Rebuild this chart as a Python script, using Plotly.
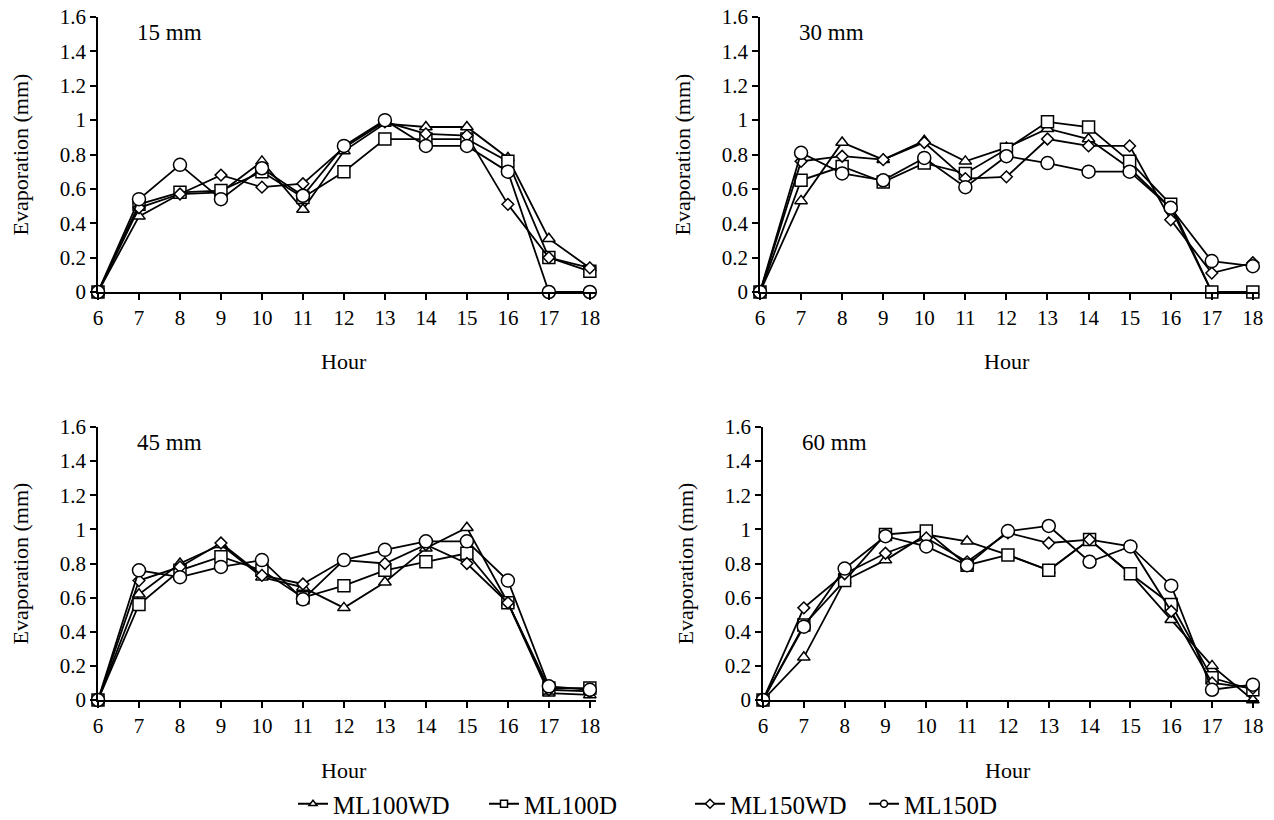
import plotly.graph_objects as go

hours = [6, 7, 8, 9, 10, 11, 12, 13, 14, 15, 16, 17, 18]
series_names = ["ML100WD", "ML100D", "ML150WD", "ML150D"]
panel_labels = ["15 mm", "30 mm", "45 mm", "60 mm"]

# 15 mm
p15_ml100wd = [0, 0.44, 0.57, 0.58, 0.76, 0.48, 0.82, 0.98, 0.96, 0.96, 0.78, 0.31, 0.14]
p15_ml100d = [0, 0.51, 0.58, 0.59, 0.70, 0.55, 0.70, 0.89, 0.89, 0.89, 0.76, 0.20, 0.12]
p15_ml150wd = [0, 0.49, 0.57, 0.68, 0.61, 0.63, 0.84, 0.99, 0.92, 0.91, 0.51, 0.20, 0.14]
p15_ml150d = [0, 0.54, 0.74, 0.54, 0.72, 0.56, 0.85, 1.00, 0.85, 0.85, 0.70, 0.00, 0.00]
# 30 mm
p30_ml100wd = [0, 0.53, 0.87, 0.77, 0.88, 0.76, 0.84, 0.95, 0.89, 0.72, 0.49, 0.00, 0.00]
p30_ml100d = [0, 0.65, 0.73, 0.64, 0.75, 0.69, 0.83, 0.99, 0.96, 0.76, 0.51, 0.00, 0.00]
p30_ml150wd = [0, 0.76, 0.79, 0.77, 0.87, 0.66, 0.67, 0.89, 0.85, 0.85, 0.42, 0.11, 0.17]
p30_ml150d = [0, 0.81, 0.69, 0.65, 0.78, 0.61, 0.79, 0.75, 0.70, 0.70, 0.49, 0.18, 0.15]
# 45 mm
p45_ml100wd = [0, 0.62, 0.80, 0.91, 0.72, 0.66, 0.54, 0.69, 0.89, 1.01, 0.57, 0.04, 0.03]
p45_ml100d = [0, 0.56, 0.76, 0.84, 0.76, 0.60, 0.67, 0.76, 0.81, 0.86, 0.57, 0.07, 0.07]
p45_ml150wd = [0, 0.70, 0.78, 0.92, 0.73, 0.68, 0.82, 0.80, 0.91, 0.80, 0.57, 0.06, 0.05]
p45_ml150d = [0, 0.76, 0.72, 0.78, 0.82, 0.59, 0.82, 0.88, 0.93, 0.93, 0.70, 0.08, 0.06]
# 60 mm
p60_ml100wd = [0, 0.25, 0.70, 0.82, 0.97, 0.93, 0.85, 0.76, 0.94, 0.74, 0.47, 0.20, 0.00]
p60_ml100d = [0, 0.44, 0.70, 0.97, 0.99, 0.79, 0.85, 0.76, 0.94, 0.74, 0.56, 0.13, 0.06]
p60_ml150wd = [0, 0.54, 0.74, 0.86, 0.95, 0.81, 0.98, 0.92, 0.94, 0.90, 0.52, 0.10, 0.07]
p60_ml150d = [0, 0.43, 0.77, 0.96, 0.90, 0.79, 0.99, 1.02, 0.81, 0.90, 0.67, 0.06, 0.09]

y_ticks = [0, 0.2, 0.4, 0.6, 0.8, 1.0, 1.2, 1.4, 1.6]
y_ticktext = ["0", "0.2", "0.4", "0.6", "0.8", "1", "1.2", "1.4", "1.6"]

panels = [
    [p15_ml100wd, p15_ml100d, p15_ml150wd, p15_ml150d],
    [p30_ml100wd, p30_ml100d, p30_ml150wd, p30_ml150d],
    [p45_ml100wd, p45_ml100d, p45_ml150wd, p45_ml150d],
    [p60_ml100wd, p60_ml100d, p60_ml150wd, p60_ml150d],
]

symbols = ["triangle-up", "square", "diamond", "circle"]
msizes = [11, 12, 9, 13]

W, H = 1274, 820
FONT = "Liberation Serif"

# pixel boxes (left, right, top, bottom) for each panel
boxes = [
    (98, 596, 17, 292),
    (760, 1259, 17, 292),
    (98, 596, 427, 700),
    (763, 1259, 427, 700),
]

fig = go.Figure()
layout_axes = {}
annotations = []

for i, (vals, box) in enumerate(zip(panels, boxes)):
    xa = "x" if i == 0 else f"x{i+1}"
    ya = "y" if i == 0 else f"y{i+1}"
    for s, v in enumerate(vals):
        fig.add_trace(go.Scatter(
            x=hours, y=v, mode="lines+markers", xaxis=xa, yaxis=ya,
            name=series_names[s], showlegend=False, cliponaxis=False,
            line=dict(color="black", width=1.8),
            marker=dict(symbol=symbols[s], size=msizes[s], color="white",
                        line=dict(color="black", width=1.5)),
        ))
    l, r, t, b = box
    xkey = "xaxis" if i == 0 else f"xaxis{i+1}"
    ykey = "yaxis" if i == 0 else f"yaxis{i+1}"
    layout_axes[xkey] = dict(
        domain=[l / W, r / W], anchor=ya, range=[6, 18.15],
        tickmode="array", tickvals=hours, ticktext=[str(h) for h in hours],
        ticks="outside", ticklen=6, tickcolor="black", tickwidth=1.5,
        showline=True, linecolor="black", linewidth=1.5,
        showgrid=False, zeroline=False, automargin=False,
        tickfont=dict(family=FONT, size=21, color="black"),
    )
    layout_axes[ykey] = dict(
        domain=[1 - b / H, 1 - t / H], anchor=xa, range=[0, 1.6],
        tickmode="array", tickvals=y_ticks, ticktext=y_ticktext,
        ticks="outside", ticklen=6, tickcolor="black", tickwidth=1.5,
        showline=True, linecolor="black", linewidth=1.5,
        showgrid=False, zeroline=False, automargin=False,
        tickfont=dict(family=FONT, size=21, color="black"),
    )
    # panel label
    annotations.append(dict(
        x=(l + 37) / W, y=1 - (t + 15) / H, xref="paper", yref="paper",
        text=panel_labels[i], showarrow=False, xanchor="left", yanchor="middle",
        font=dict(family=FONT, size=23, color="black"),
    ))
    # x title
    annotations.append(dict(
        x=(l + r - 6) / 2 / W, y=1 - (b + 70) / H, xref="paper", yref="paper",
        text="Hour", showarrow=False, xanchor="center", yanchor="middle",
        font=dict(family=FONT, size=22, color="black"),
    ))
    # y title
    annotations.append(dict(
        x=(l - 78) / W, y=1 - ((t + b) / 2) / H, xref="paper", yref="paper",
        text="Evaporation (mm)", showarrow=False, textangle=-90,
        xanchor="center", yanchor="middle",
        font=dict(family=FONT, size=22, color="black"),
    ))

# legend entries (separate legends to match spacing)
legend_x = [293, 484, 690, 864]
legend_names = ["legend", "legend2", "legend3", "legend4"]
for s in range(4):
    fig.add_trace(go.Scatter(
        x=[None], y=[None], mode="lines+markers", name=series_names[s],
        legend=legend_names[s], showlegend=True,
        line=dict(color="black", width=2),
        marker=dict(symbol=symbols[s], size=7, color="white",
                    line=dict(color="black", width=1.5)),
    ))
    layout_axes[legend_names[s]] = dict(
        x=legend_x[s] / W, y=1 - 804 / H, xanchor="left", yanchor="middle",
        orientation="h", bgcolor="rgba(0,0,0,0)", borderwidth=0,
        font=dict(family=FONT, size=25, color="black"), itemwidth=30,
    )

fig.update_layout(
    width=W, height=H,
    margin=dict(l=0, r=0, t=0, b=0, autoexpand=False),
    paper_bgcolor="white", plot_bgcolor="white",
    annotations=annotations, showlegend=True,
    **layout_axes,
)

fig.write_html("out.html", config={"displayModeBar": False},
               post_script="document.body.style.margin='0px';document.body.style.overflow='hidden';")
